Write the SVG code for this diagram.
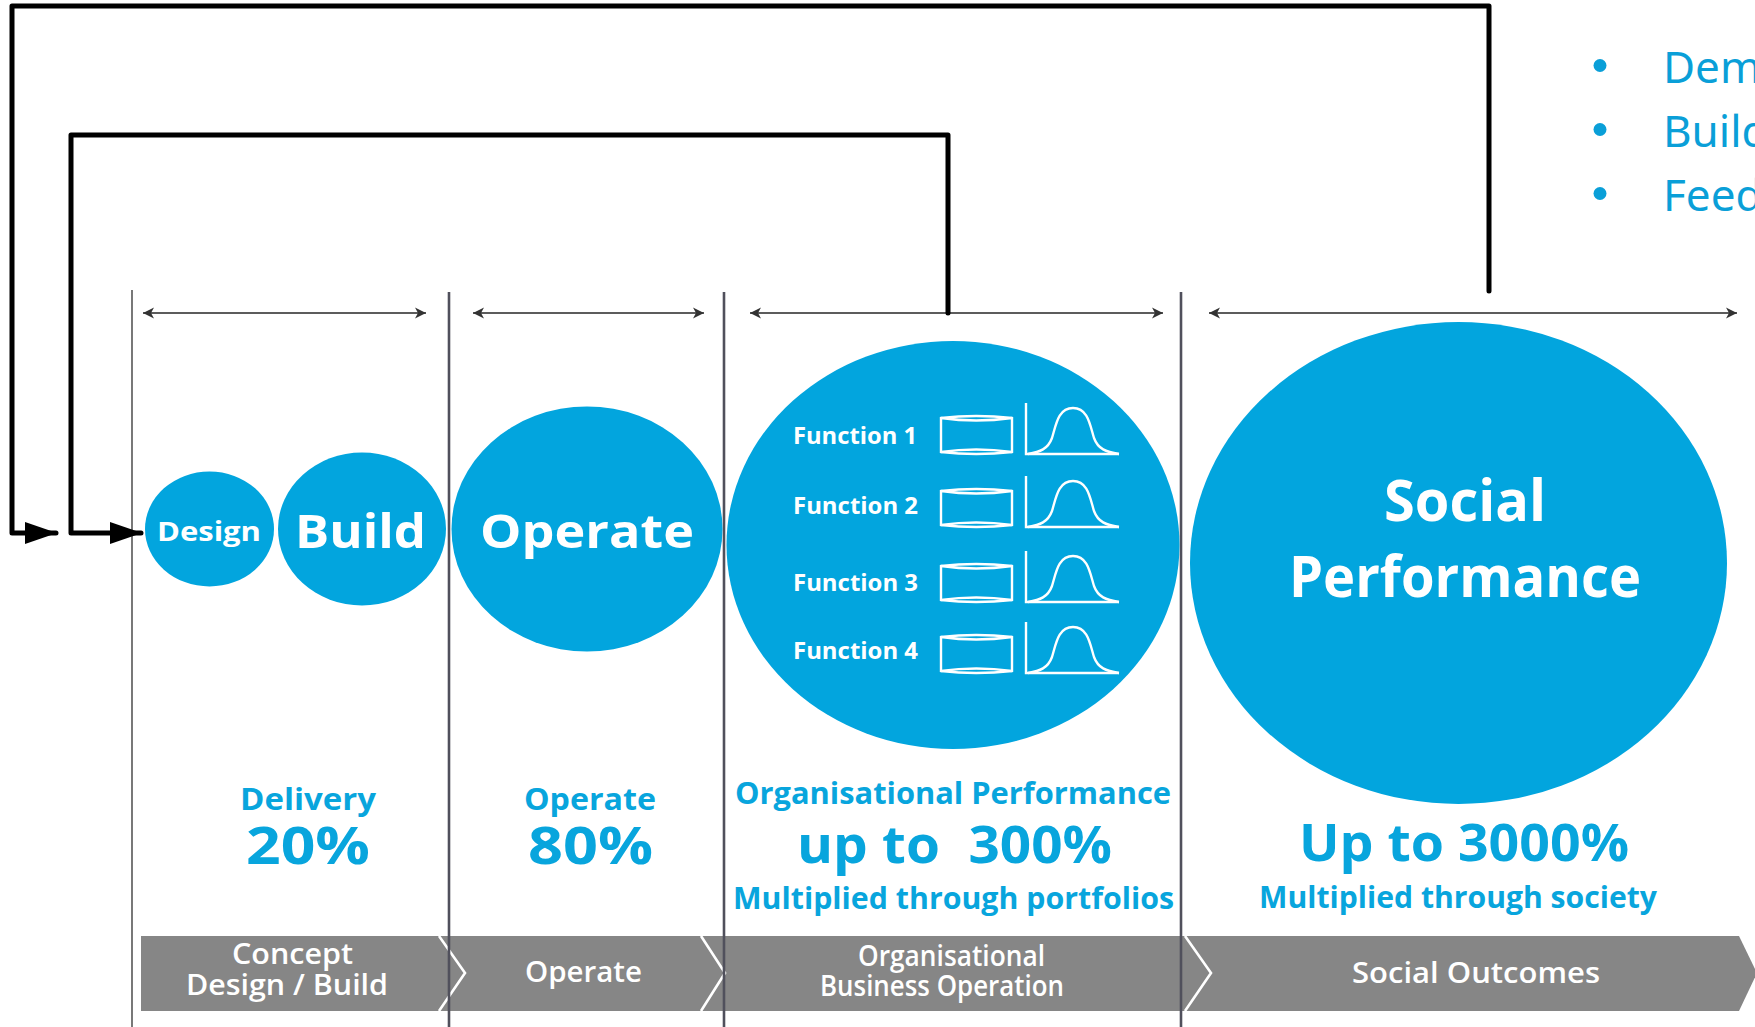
<svg xmlns="http://www.w3.org/2000/svg" xmlns:xlink="http://www.w3.org/1999/xlink" width="1755" height="1027" viewBox="0 0 1755 1027">
<style>
text{font-family:"Open Sans","Noto Sans","Liberation Sans",sans-serif;text-anchor:start}
.blob{fill:#02A5DE}
.w{fill:#fff;font-weight:700}
.b{fill:#08A5DD;font-weight:700}
.band{fill:#fff;font-weight:600;font-size:29px}
.list{fill:#0A9FD8;font-size:44px;font-family:"Noto Sans","Open Sans",sans-serif}
.sep{stroke:#50505c;stroke-width:2.6;fill:none}
.span{stroke:#5c5c5c;stroke-width:1.8;fill:none;marker-start:url(#hs);marker-end:url(#he)}
.conn{stroke:#000;stroke-width:5;fill:none;stroke-linejoin:round;stroke-linecap:round;}
.icon{stroke:#fff;stroke-width:2.4;fill:none}
.chev{stroke:#fff;stroke-width:2.6;fill:none}
</style>
<defs>
<marker id="he" markerUnits="userSpaceOnUse" markerWidth="14" markerHeight="14" refX="11" refY="7" orient="auto"><path d="M0,1.500 L11,7 L0,12.500 L3,7 Z" fill="#333"/></marker>
<marker id="hs" markerUnits="userSpaceOnUse" markerWidth="14" markerHeight="14" refX="1" refY="7" orient="auto"><path d="M12,1.500 L1,7 L12,12.500 L9,7 Z" fill="#333"/></marker>
<marker id="big" markerUnits="userSpaceOnUse" markerWidth="34" markerHeight="24" refX="31" refY="11" orient="auto"><path d="M0,0 L32,11 L0,22 Z" fill="#000"/></marker>
<g id="fn-icons" class="icon">
<path d="M941,418 Q976,414 1012,418 V452 Q976,456 941,452 Z"/>
<path d="M941,418 Q976,423 1012,418 M941,452 Q976,447 1012,452"/>
<path d="M1026,403 V454 H1119"/>
<path d="M1028,454 C1040,452 1048,449 1052,438 C1056,425 1058,408 1073,408 C1088,408 1090,425 1094,438 C1098,449 1106,452 1119,454"/>
</g>
</defs>
<rect width="1755" height="1027" fill="#fff"/>

<g id="band">
<path d="M141,936 H1739 L1757,973 L1739,1011 H141 Z" fill="#868686"/>
<path class="chev" d="M439,936 L465,973 L439,1011"/>
<path class="chev" d="M701,936 L725,973 L701,1011"/>
<path class="chev" d="M1185,936 L1211,973 L1185,1011"/>
<text class="band" x="232" y="964" textLength="121" lengthAdjust="spacingAndGlyphs">Concept</text>
<text class="band" x="186" y="995" textLength="202" lengthAdjust="spacingAndGlyphs">Design / Build</text>
<text class="band" x="525" y="982" textLength="117" lengthAdjust="spacingAndGlyphs">Operate</text>
<text class="band" x="858" y="966" textLength="187" lengthAdjust="spacingAndGlyphs">Organisational</text>
<text class="band" x="820" y="996" textLength="244" lengthAdjust="spacingAndGlyphs">Business Operation</text>
<text class="band" x="1352" y="983" textLength="248" lengthAdjust="spacingAndGlyphs">Social Outcomes</text>
</g>

<g id="separators">
<path class="sep" style="stroke-width:1.8;stroke:#6a6a6a" d="M132,290 V1027"/>
<path class="sep" d="M449,292 V1027"/>
<path class="sep" d="M724,292 V1027"/>
<path class="sep" d="M1181,292 V1027"/>
</g>

<g id="spans">
<path class="span" d="M143,313 H426"/>
<path class="span" d="M473,313 H704"/>
<path class="span" d="M750,313 H1163"/>
<path class="span" d="M1209,313 H1737"/>
</g>

<g id="node-design"><ellipse class="blob" cx="209.500" cy="529" rx="64.500" ry="57.500"/><text class="w" x="157" y="541" font-size="26" textLength="104" lengthAdjust="spacingAndGlyphs">Design</text></g>
<g id="node-build"><ellipse class="blob" cx="362" cy="529" rx="84" ry="76.500"/><text class="w" x="295" y="548" font-size="47" textLength="131" lengthAdjust="spacingAndGlyphs">Build</text></g>
<g id="node-operate"><ellipse class="blob" cx="587" cy="529" rx="135.500" ry="122.500"/><text class="w" x="480" y="548" font-size="47" textLength="214" lengthAdjust="spacingAndGlyphs">Operate</text></g>
<g id="node-org">
<ellipse class="blob" cx="953" cy="545" rx="226.500" ry="204"/>
<text class="w" x="793" y="444" font-size="24" textLength="124" lengthAdjust="spacingAndGlyphs">Function 1</text>
<text class="w" x="793" y="514" font-size="24" textLength="125" lengthAdjust="spacingAndGlyphs">Function 2</text>
<text class="w" x="793" y="591" font-size="24" textLength="125" lengthAdjust="spacingAndGlyphs">Function 3</text>
<text class="w" x="793" y="659" font-size="24" textLength="125" lengthAdjust="spacingAndGlyphs">Function 4</text>
<use href="#fn-icons"/>
<use href="#fn-icons" y="73"/>
<use href="#fn-icons" y="148"/>
<use href="#fn-icons" y="219"/>
</g>
<g id="node-social">
<ellipse class="blob" cx="1458.500" cy="563" rx="268.500" ry="241"/>
<text class="w" x="1384" y="521" font-size="58" textLength="162" lengthAdjust="spacingAndGlyphs">Social</text>
<text class="w" x="1289" y="597" font-size="58" textLength="352" lengthAdjust="spacingAndGlyphs">Performance</text>
</g>

<g id="labels">
<text class="b" x="240" y="810" font-size="31" textLength="136" lengthAdjust="spacingAndGlyphs">Delivery</text>
<text class="b" x="246" y="864" font-size="52" textLength="124" lengthAdjust="spacingAndGlyphs">20%</text>
<text class="b" x="524" y="810" font-size="31" textLength="132" lengthAdjust="spacingAndGlyphs">Operate</text>
<text class="b" x="528" y="864" font-size="52" textLength="125" lengthAdjust="spacingAndGlyphs">80%</text>
<text class="b" x="735" y="804" font-size="31" textLength="436" lengthAdjust="spacingAndGlyphs">Organisational Performance</text>
<text class="b" x="797" y="863" font-size="52" textLength="315" lengthAdjust="spacingAndGlyphs" xml:space="preserve">up to  300%</text>
<text class="b" x="733" y="909" font-size="31" textLength="441" lengthAdjust="spacingAndGlyphs">Multiplied through portfolios</text>
<text class="b" x="1299" y="861" font-size="52" textLength="330" lengthAdjust="spacingAndGlyphs">Up to 3000%</text>
<text class="b" x="1259" y="908" font-size="31" textLength="398" lengthAdjust="spacingAndGlyphs">Multiplied through society</text>
</g>

<g id="connectors">
<path class="conn" d="M948,313 V135 H71 V533 H141" marker-end="url(#big)"/>
<path class="conn" d="M1489,291 V6 H12 V533 H56" marker-end="url(#big)"/>
</g>

<g id="list">
<circle cx="1600" cy="65.500" r="6.500" fill="#0A9FD8"/>
<circle cx="1600" cy="129.500" r="6.500" fill="#0A9FD8"/>
<circle cx="1600" cy="193.500" r="6.500" fill="#0A9FD8"/>
<text class="list" x="1663" y="83">Dem</text>
<text class="list" x="1663" y="147">Build</text>
<text class="list" x="1663" y="211">Feed</text>
</g>
</svg>
